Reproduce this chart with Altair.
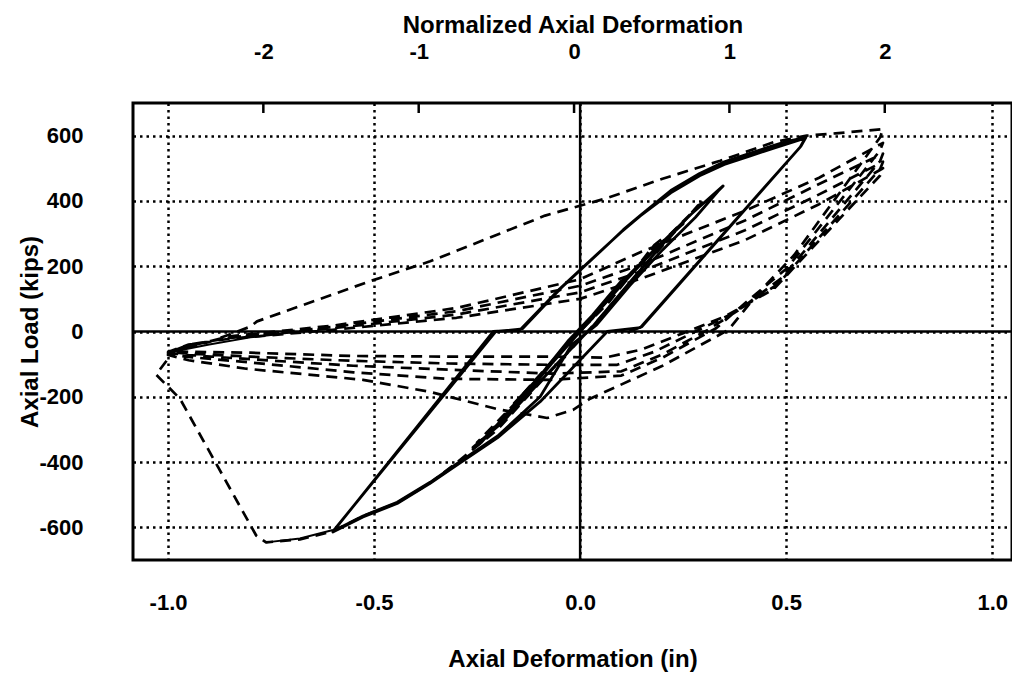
import altair as alt
import pandas as pd

# ---------------- data ----------------
# Solid specimen: path segments in drawing order (x = axial deformation in, y = axial load kips)
s_small_x = [0.0, 0.06, 0.12, 0.10, 0.03, -0.03, -0.10, -0.16, -0.14, -0.07, 0.0,
             0.08, 0.18, 0.25, 0.23, 0.13, 0.03, -0.08, -0.19, -0.26, -0.24, -0.13, -0.02]
s_small_y = [0, 85, 170, 155, 50, -30, -140, -220, -205, -100, 0,
             115, 250, 330, 310, 165, 15, -130, -280, -355, -340, -185, -20]
s_inner_x = [0.03, 0.10, 0.18, 0.27, 0.347, 0.335, 0.28, 0.20, 0.12, 0.04]
s_inner_y = [40, 150, 250, 360, 446, 430, 350, 250, 140, 20]
s_comp1_x = [-0.02, -0.097, -0.20, -0.299, -0.364, -0.444, -0.527, -0.60]
s_comp1_y = [-40, -200, -320, -405, -462, -523, -565, -612]
s_ten1_x = [-0.59, -0.211, -0.146, -0.05, 0.049, 0.10, 0.146, 0.22, 0.29, 0.35, 0.413, 0.47, 0.51, 0.546, 0.534, 0.146, 0.066]
s_ten1_y = [-598, 0, 5, 130, 246, 305, 354, 425, 477, 512, 538, 562, 578, 592, 565, 12, 0]
s_comp2_x = [-0.097, -0.20, -0.30, -0.364, -0.444, -0.527, -0.60]
s_comp2_y = [-215, -325, -410, -465, -527, -568, -614]
s_ten2_x = [-0.592, -0.205, -0.14, -0.045, 0.055, 0.105, 0.15, 0.22, 0.29, 0.35, 0.41, 0.465, 0.50, 0.548, 0.536, 0.15, 0.12]
s_ten2_y = [-600, 0, 8, 135, 252, 312, 360, 432, 484, 520, 545, 568, 582, 595, 568, 15, 0]

# thin solid pieces at the buckling tips
t_bottom_x = [-0.60, -0.68, -0.762]
t_bottom_y = [-608, -634, -646]
t_left_x = [-0.99, -0.90, -0.80, -0.72]
t_left_y = [-62, -40, -18, -6]

# Dashed specimen
d_small_x = [0.0, 0.09, 0.20, 0.18, 0.07, -0.04, -0.15, -0.25, -0.23, -0.11, 0.0,
             0.12, 0.30, 0.285, 0.16, 0.04]
d_small_y = [0, 130, 285, 265, 90, -50, -210, -340, -325, -150, 5,
             175, 400, 385, 205, 30]
d_buckle_x = [-0.10, -0.20, -0.30, -0.364, -0.444, -0.527, -0.60, -0.68, -0.762, -0.786,
              -0.971, -1.029, -1.005, -0.99]
d_buckle_y = [-160, -300, -402, -464, -525, -566, -612, -637, -646, -625,
              -206, -132, -92, -62]
d_rel1_x = [-0.90, -0.80, -0.784, -0.51, -0.364, -0.085, 0.066, 0.20, 0.34, 0.47, 0.55, 0.62, 0.735]
d_rel1_y = [-32, 15, 31, 154, 215, 355, 409, 468, 523, 580, 600, 607, 620]
d_unl1_x = [0.728, 0.52, 0.43, 0.36, 0.20, 0.024, -0.017, -0.08, -0.20, -0.364, -0.527, -0.81, -0.95, -1.0]
d_unl1_y = [595, 235, 115, 5, -105, -206, -240, -265, -238, -185, -148, -114, -88, -72]

rel_x = [-0.95, -0.85, -0.60, -0.30, 0.0, 0.15, 0.40, 0.58, 0.735]
d_rel2_y = [-45, -15, 18, 72, 160, 245, 370, 471, 578]
d_rel3_y = [-42, -18, 14, 62, 140, 206, 340, 452, 545]
d_rel4_y = [-40, -20, 10, 52, 120, 185, 310, 420, 520]
d_rel5_y = [-40, -22, 5, 42, 100, 163, 280, 390, 500]

d_unl2_x = [0.728, 0.502, 0.405, 0.33, 0.20, 0.10, -0.07]
d_unl2_y = [555, 194, 92, 10, -80, -135, -148]
d_unl3_x = [0.728, 0.49, 0.39, 0.31, 0.20, 0.10, -0.07]
d_unl3_y = [522, 165, 70, 5, -70, -122, -129]
d_unl4_x = [0.728, 0.48, 0.37, 0.28, 0.18, 0.09, -0.07]
d_unl4_y = [498, 145, 55, 0, -62, -102, -102]
d_unl5_x = [0.728, 0.47, 0.35, 0.25, 0.15, 0.06, -0.07]
d_unl5_y = [478, 130, 45, -5, -55, -80, -77]

plat_x = [-0.32, -0.55, -0.80, -0.95, -1.0]
d_plat2_y = [-145, -125, -95, -78, -70]
d_plat3_y = [-117, -105, -85, -72, -66]
d_plat4_y = [-98, -90, -77, -68, -63]
d_plat5_y = [-77, -75, -65, -62, -60]

x_ticks = [-1.0, -0.5, 0.0, 0.5, 1.0]
y_ticks = [-600, -400, -200, 0, 200, 400, 600]
norm_ticks = [-2, -1, 0, 1, 2]

# ---------------- assemble tables ----------------
solid_x = s_small_x + s_inner_x + s_comp1_x + s_ten1_x + s_comp2_x + s_ten2_x
solid_y = s_small_y + s_inner_y + s_comp1_y + s_ten1_y + s_comp2_y + s_ten2_y

dashed_x = (d_small_x + d_buckle_x + d_rel1_x + d_unl1_x
            + rel_x + d_unl2_x + plat_x
            + rel_x + d_unl3_x + plat_x
            + rel_x + d_unl4_x + plat_x
            + rel_x + d_unl5_x + plat_x)
dashed_y = (d_small_y + d_buckle_y + d_rel1_y + d_unl1_y
            + d_rel2_y + d_unl2_y + d_plat2_y
            + d_rel3_y + d_unl3_y + d_plat3_y
            + d_rel4_y + d_unl4_y + d_plat4_y
            + d_rel5_y + d_unl5_y + d_plat5_y)

solid_df = pd.DataFrame({"x": solid_x, "y": solid_y, "i": list(range(len(solid_x)))})
dashed_df = pd.DataFrame({"x": dashed_x, "y": dashed_y, "i": list(range(len(dashed_x)))})
thin_df = pd.DataFrame({
    "x": t_bottom_x + t_left_x,
    "y": t_bottom_y + t_left_y,
    "seg": ["b"] * len(t_bottom_x) + ["l"] * len(t_left_x),
    "i": list(range(len(t_bottom_x))) + list(range(len(t_left_x))),
})
zero_x_df = pd.DataFrame({"x": [0.0]})
zero_y_df = pd.DataFrame({"y": [0]})
norm_df = pd.DataFrame({"n": norm_ticks})

FONT = "Liberation Sans"
W, H = 879, 457

xscale = alt.Scale(domain=[-1.085, 1.048], nice=False, zero=False)
yscale = alt.Scale(domain=[-700, 700], nice=False, zero=False)

common_axis = dict(
    labelFont=FONT, titleFont=FONT, labelFontWeight="bold", titleFontWeight="bold",
    labelFontSize=22, titleFontSize=24, labelColor="black", titleColor="black",
    ticks=False, domain=False,
)

x_axis = alt.Axis(
    values=x_ticks,
    labelExpr="replace(format(datum.value, '.1f'), '\u2212', '-')",
    title="Axial Deformation (in)",
    labelPadding=32, titleY=99, titleBaseline="middle",
    grid=True, gridDash=[2.5, 4], gridColor="black", gridWidth=2.5, gridOpacity=1,
    **common_axis,
)
y_axis = alt.Axis(
    values=y_ticks,
    labelExpr="replace(format(datum.value, 'd'), '\u2212', '-')",
    title="Axial Load (kips)",
    labelPadding=50, titleX=-103, titleY=H / 2, titleBaseline="middle", titleAngle=-90,
    grid=True, gridDash=[2.5, 4], gridColor="black", gridWidth=2.5, gridOpacity=1,
    **common_axis,
)

X = alt.X("x:Q", scale=xscale, axis=x_axis)
Y = alt.Y("y:Q", scale=yscale, axis=y_axis)

zero_v = alt.Chart(zero_x_df).mark_rule(color="black", strokeWidth=2.5).encode(x=X)
zero_h = alt.Chart(zero_y_df).mark_rule(color="black", strokeWidth=2.5).encode(y=Y)

solid = alt.Chart(solid_df).mark_line(
    color="black", strokeWidth=2.8, strokeJoin="round", clip=True
).encode(x=X, y=Y, order="i:Q")

thin = alt.Chart(thin_df).mark_line(
    color="black", strokeWidth=2.0, strokeJoin="round", clip=True
).encode(x=X, y=Y, detail="seg:N", order="i:Q")

dashed = alt.Chart(dashed_df).mark_line(
    color="black", strokeWidth=2.7, strokeDash=[11, 7], strokeJoin="round", clip=True
).encode(x=X, y=Y, order="i:Q")

main = alt.layer(zero_v, zero_h, solid, thin, dashed)

top = alt.Chart(norm_df).mark_rule(color="black", strokeWidth=2.5).encode(
    x=alt.X(
        "n:Q",
        scale=alt.Scale(domain=[-2.839, 2.819], nice=False, zero=False),
        axis=alt.Axis(
            orient="top", values=norm_ticks,
            labelExpr="replace(format(datum.value, 'd'), '\u2212', '-')",
            title="Normalized Axial Deformation",
            labelPadding=40, titleY=-78, titleBaseline="middle",
            grid=False, **common_axis,
        ),
    ),
    y=alt.value(0),
    y2=alt.value(10),
)

chart = (
    alt.layer(main, top)
    .resolve_scale(x="independent")
    .properties(
        width=W, height=H,
        autosize=alt.AutoSizeParams(type="none"),
        padding={"left": 125, "top": 95, "right": 0, "bottom": 113},
        background="white",
    )
    .configure_view(stroke="black", strokeWidth=3)
)

chart.save("out.html", embed_options={"renderer": "svg", "actions": False})
